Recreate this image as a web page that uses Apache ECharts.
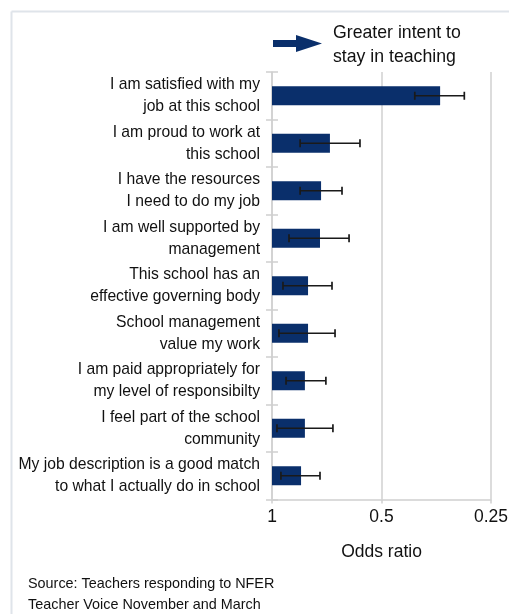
<!DOCTYPE html>
<html>
<head>
<meta charset="utf-8">
<script src="https://cdn.jsdelivr.net/npm/echarts@6/dist/echarts.min.js"></script>
<style>
html,body{margin:0;padding:0;background:#fff;}
#chart{width:509px;height:614px;}
</style>
</head>
<body>
<div id="chart"></div>
<script>
const categories = [
  'I am satisfied with my\njob at this school',
  'I am proud to work at\nthis school',
  'I have the resources\nI need to do my job',
  'I am well supported by\nmanagement',
  'This school has an\neffective governing body',
  'School management\nvalue my work',
  'I am paid appropriately for\nmy level of responsibilty',
  'I feel part of the school\ncommunity',
  'My job description is a good match\nto what I actually do in school'
];
const oddsRatio = [0.345, 0.693, 0.733, 0.738, 0.796, 0.796, 0.812, 0.812, 0.832];
const ciUpper   = [0.405, 0.837, 0.837, 0.898, 0.933, 0.957, 0.915, 0.969, 0.945];
const ciLower   = [0.296, 0.573, 0.642, 0.614, 0.684, 0.671, 0.711, 0.680, 0.738];
const xTicks = [1, 0.5, 0.25];

const FONT = '"Liberation Sans", Arial, sans-serif';
const NAVY = '#0a2f6b';
const GRID = '#d0d0d0';

const chart = echarts.init(document.getElementById('chart'), null, {renderer: 'canvas'});

const errData = categories.map((c, i) => [ciUpper[i], ciLower[i], i]);

chart.setOption({
  animation: false,
  backgroundColor: '#fff',
  grid: {left: 272, right: 18, top: 72, bottom: 114.5, containLabel: false, outerBoundsMode: 'none'},
  xAxis: {
    type: 'log',
    logBase: 2,
    min: 0.25,
    max: 1,
    inverse: true,
    position: 'bottom',
    axisLine: {show: true, lineStyle: {color: GRID, width: 1.5}},
    axisTick: {show: true, length: 4, lineStyle: {color: GRID, width: 1.5}},
    splitLine: {show: true, lineStyle: {color: GRID, width: 1.5}},
    axisLabel: {
      color: '#111', fontFamily: FONT, fontSize: 17.5, margin: 9,
      formatter: v => {
        const t = xTicks.find(k => Math.abs(k - v) < 1e-9);
        return t !== undefined ? String(t) : '';
      }
    },
    name: 'Odds ratio',
    nameLocation: 'middle',
    nameGap: 44,
    nameTextStyle: {color: '#111', fontFamily: FONT, fontSize: 17.5}
  },
  yAxis: [{
    type: 'category',
    data: categories,
    inverse: true,
    axisLine: {show: true, lineStyle: {color: GRID, width: 1.5}},
    axisTick: {show: true, length: 6, lineStyle: {color: GRID, width: 1.5}},
    splitLine: {show: false},
    axisLabel: {
      color: '#111', fontFamily: FONT, fontSize: 15.7, lineHeight: 22, margin: 12, align: 'right'
    }
  }, {
    type: 'category',
    data: categories,
    inverse: true,
    position: 'left',
    axisLine: {show: false},
    axisTick: {show: true, inside: true, length: 6, lineStyle: {color: GRID, width: 1.5}},
    axisLabel: {show: false},
    splitLine: {show: false}
  }],
  series: [{
    type: 'bar',
    data: oddsRatio,
    barWidth: 19,
    itemStyle: {color: NAVY},
    yAxisIndex: 0
  }, {
    type: 'custom',
    data: errData,
    encode: {x: [0, 1], y: 2},
    yAxisIndex: 0,
    z: 5,
    renderItem: (params, api) => {
      const a = api.coord([api.value(0), api.value(2)]);
      const b = api.coord([api.value(1), api.value(2)]);
      const h = 4;
      const style = {stroke: '#1a1a1a', lineWidth: 1.7};
      return {
        type: 'group',
        children: [
          {type: 'line', shape: {x1: a[0], y1: a[1], x2: b[0], y2: b[1]}, style},
          {type: 'line', shape: {x1: a[0], y1: a[1] - h, x2: a[0], y2: a[1] + h}, style},
          {type: 'line', shape: {x1: b[0], y1: b[1] - h, x2: b[0], y2: b[1] + h}, style}
        ]
      };
    }
  }],
  graphic: [
    {type: 'line', shape: {x1: 11.5, y1: 11.5, x2: 509, y2: 11.5}, style: {stroke: '#dfe4ea', lineWidth: 2}},
    {type: 'line', shape: {x1: 11.5, y1: 11.5, x2: 11.5, y2: 614}, style: {stroke: '#dfe4ea', lineWidth: 2}},
    {type: 'polygon', shape: {points: [[273, 40], [296, 40], [296, 35], [322, 43.5], [296, 52], [296, 47], [273, 47]]}, style: {fill: NAVY}},
    {type: 'text', left: 333, top: 21, style: {text: 'Greater intent to\nstay in teaching', fill: '#111', font: '17.7px ' + FONT, lineHeight: 24}},
    {type: 'text', left: 28, top: 574, style: {text: 'Source: Teachers responding to NFER\nTeacher Voice November and March', fill: '#111', font: '14.4px ' + FONT, lineHeight: 21}}
  ]
});
</script>
</body>
</html>
